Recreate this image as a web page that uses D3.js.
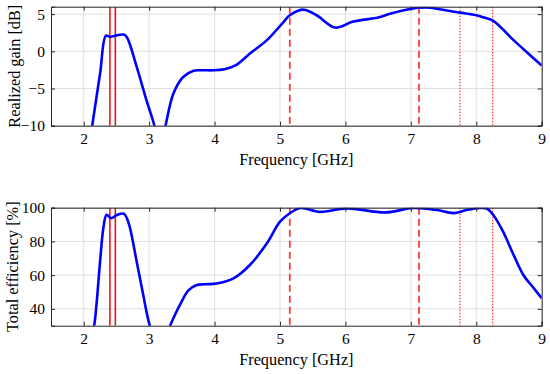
<!DOCTYPE html>
<html><head><meta charset="utf-8">
<script src="https://cdn.jsdelivr.net/npm/d3@7"></script>
<style>body{margin:0;background:#fff}svg{display:block}</style>
</head><body>
<script>
// ---- data ----
const gainFreq = [2.08,2.13,2.25,2.34,2.40,2.48,2.61,2.66,2.81,2.96,3.08,3.16,3.25,3.37,3.52,3.68,3.80,3.98,4.15,4.32,4.54,4.80,5.05,5.15,5.36,5.56,5.84,6.12,6.50,6.68,6.99,7.24,7.55,7.75,8.00,8.13,8.26,8.57,8.77,9.00];
const gainVal  = [-13.0,-10.0,-3.0,2.1,1.95,2.1,2.25,1.9,-2.1,-6.6,-10.0,-13.5,-10.0,-5.7,-3.45,-2.6,-2.55,-2.55,-2.4,-1.9,-0.3,1.5,3.9,4.85,5.6,4.85,3.2,4.0,4.55,5.05,5.7,5.9,5.5,5.2,4.85,4.5,4.1,1.5,-0.1,-1.9];
const effFreq = [2.11,2.16,2.25,2.30,2.35,2.42,2.50,2.61,2.68,2.81,2.91,3.01,3.16,3.32,3.47,3.60,3.72,3.85,4.03,4.29,4.54,4.80,5.00,5.15,5.31,5.61,6.02,6.61,7.04,7.40,7.65,7.85,8.06,8.16,8.26,8.41,8.57,8.72,8.88,9.00];
const effVal  = [22,30,68,87.8,95.8,93.7,95.5,96.5,91.7,68,48.2,30,15,30,42.3,51.0,54.0,54.6,55.0,58.1,66,78.9,91.7,96.7,99.8,97.5,99.6,97.2,99.8,98.6,96.8,98.6,99.8,99.5,95.7,85.8,72,60.1,52.2,46.3];
const solidLines  = [2.4, 2.4835];
const dashedLines = [5.15, 7.125];
const dottedLines = [7.75, 8.25];
const xTicks = [2,3,4,5,6,7,8,9];
const gainTicks = [-10,-5,0,5];
const effTicks = [40,60,80,100];

const W = 550, H = 374;
const svg = d3.select("body").append("svg").attr("width", W).attr("height", H);
const font = "'Liberation Serif','Times New Roman',serif";

function panel(top, bottom, yDomain, yTicks, fx, fy, ylabel, clipId, labelX) {
  const x = d3.scaleLinear().domain([1.5, 9]).range([51, 541.7]);
  const y = d3.scaleLinear().domain(yDomain).range([bottom, top]);
  const g = svg.append("g");
  // grid
  g.selectAll(".gx").data(xTicks).enter().append("line")
    .attr("x1", d => x(d)).attr("x2", d => x(d)).attr("y1", top).attr("y2", bottom)
    .attr("stroke", "#e0e0e0").attr("stroke-width", 1);
  g.selectAll(".gy").data(yTicks).enter().append("line")
    .attr("x1", 51).attr("x2", 541.7).attr("y1", d => y(d)).attr("y2", d => y(d))
    .attr("stroke", "#e0e0e0").attr("stroke-width", 1);
  // clip
  svg.append("clipPath").attr("id", clipId).append("rect")
    .attr("x", 51).attr("y", top).attr("width", 541.7 - 51).attr("height", bottom - top);
  const cg = g.append("g").attr("clip-path", `url(#${clipId})`);
  // marker lines
  cg.selectAll(".s").data(solidLines).enter().append("line")
    .attr("x1", d => x(d)).attr("x2", d => x(d)).attr("y1", top).attr("y2", bottom)
    .attr("stroke", "#ff0000").attr("stroke-width", 1.5);
  cg.selectAll(".d").data(dashedLines).enter().append("line")
    .attr("x1", d => x(d)).attr("x2", d => x(d)).attr("y1", top).attr("y2", bottom)
    .attr("stroke", "#ff3a3a").attr("stroke-width", 1.8).attr("stroke-dasharray", "7,4");
  cg.selectAll(".o").data(dottedLines).enter().append("line")
    .attr("x1", d => x(d)).attr("x2", d => x(d)).attr("y1", top).attr("y2", bottom)
    .attr("stroke", "#ff3a3a").attr("stroke-width", 1.2).attr("stroke-dasharray", "1.5,1.5");
  // curve
  const pts = fx.map((f, i) => [f, fy[i]]);
  cg.append("path").datum(pts)
    .attr("d", d3.line().x(d => x(d[0])).y(d => y(d[1])).curve(d3.curveCatmullRom.alpha(0.5)))
    .attr("fill", "none").attr("stroke", "#0000ff").attr("stroke-width", 2.6)
    .attr("stroke-linejoin", "round");
  // axes (box with inward ticks)
  const ac = "#262626";
  const axB = d3.axisBottom(x).tickValues(xTicks).tickSize(-4).tickPadding(7).tickFormat(d3.format("d"));
  const axT = d3.axisTop(x).tickValues(xTicks).tickSize(-4).tickFormat("");
  const axL = d3.axisLeft(y).tickValues(yTicks).tickSize(-4).tickPadding(6).tickFormat(d3.format("d"));
  const axR = d3.axisRight(y).tickValues(yTicks).tickSize(-4).tickFormat("");
  const gs = [
    g.append("g").attr("transform", `translate(0,${bottom})`).call(axB),
    g.append("g").attr("transform", `translate(0,${top})`).call(axT),
    g.append("g").attr("transform", `translate(51,0)`).call(axL),
    g.append("g").attr("transform", `translate(541.7,0)`).call(axR)
  ];
  gs.forEach(a => {
    a.select(".domain").attr("stroke", ac).attr("stroke-width", 1);
    a.selectAll(".tick line").attr("stroke", ac);
    a.selectAll("text").attr("fill", "#000").style("font-family", font).style("font-size", "15.5px");
  });
  g.append("text").attr("x", x(5.25)).attr("y", bottom + 39).attr("text-anchor", "middle")
    .style("font-family", font).style("font-size", "16.3px").text("Frequency [GHz]");
  g.append("text").attr("transform", `translate(${labelX},${(top + bottom) / 2}) rotate(-90)`)
    .attr("text-anchor", "middle").style("font-family", font).style("font-size", "16.3px").text(ylabel);
}

panel(6.7, 125.7, [-10, 6], gainTicks, gainFreq, gainVal, "Realized gain [dB]", "c1", 20);
panel(207.7, 325.7, [30, 100], effTicks, effFreq, effVal, "Total efficiency [%]", "c2", 18);
</script>
</body></html>
